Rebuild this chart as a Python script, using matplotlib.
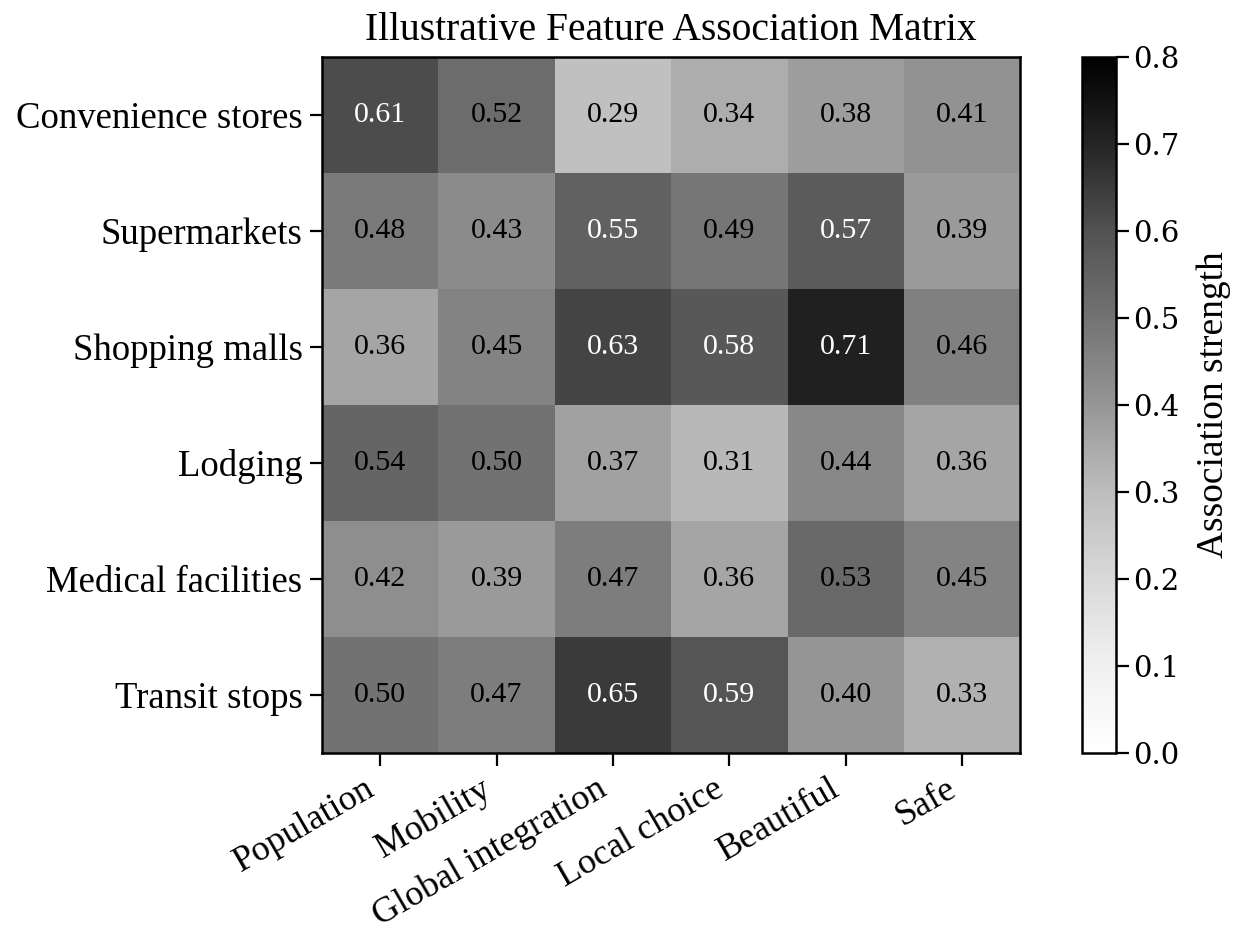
import numpy as np
import matplotlib
matplotlib.use('Agg')
import matplotlib.pyplot as plt

rows = ['Convenience stores', 'Supermarkets', 'Shopping malls',
        'Lodging', 'Medical facilities', 'Transit stops']
cols = ['Population', 'Mobility', 'Global integration',
        'Local choice', 'Beautiful', 'Safe']

convenience = [0.61, 0.52, 0.29, 0.34, 0.38, 0.41]
supermarkets = [0.48, 0.43, 0.55, 0.49, 0.57, 0.39]
malls = [0.36, 0.45, 0.63, 0.58, 0.71, 0.46]
lodging = [0.54, 0.50, 0.37, 0.31, 0.44, 0.36]
medical = [0.42, 0.39, 0.47, 0.36, 0.53, 0.45]
transit = [0.50, 0.47, 0.65, 0.59, 0.40, 0.33]

cbar_ticks = [0.0, 0.1, 0.2, 0.3, 0.4, 0.5, 0.6, 0.7, 0.8]

data = np.array([convenience, supermarkets, malls, lodging, medical, transit])

plt.rcParams['font.family'] = ['Liberation Serif', 'DejaVu Serif']

fig = plt.figure(figsize=(12.41, 9.35), dpi=100)
ax = fig.add_axes([0.2595, 0.1947, 0.5625, 0.7443])
cax = fig.add_axes([0.872, 0.1947, 0.0274, 0.7443])

im = ax.imshow(data, cmap='Greys', vmin=0, vmax=0.8, aspect='auto')

# 數值標註：深色格用白字
for i in range(data.shape[0]):
    for j in range(data.shape[1]):
        v = data[i, j]
        color = 'white' if v >= 0.545 else 'black'
        ax.text(j, i, f'{v:.2f}', ha='center', va='center', color=color, fontsize=21.5)

ax.set_xticks(np.arange(len(cols)))
ax.set_yticks(np.arange(len(rows)))
ax.set_xticklabels(cols, rotation=30, ha='right', fontsize=26)
ax.set_yticklabels(rows, fontsize=26.5)
ax.tick_params(length=9, width=1.6, pad=5)
for s in ax.spines.values():
    s.set_linewidth(1.8)
ax.set_title('Illustrative Feature Association Matrix', fontsize=28.5, pad=12)

cb = fig.colorbar(im, cax=cax)
cb.set_ticks(cbar_ticks)
cb.ax.set_yticklabels([f'{t:.1f}' for t in cbar_ticks],
                      fontfamily='DejaVu Serif', fontsize=21)
cb.ax.tick_params(length=9, width=1.6)
cb.outline.set_linewidth(1.8)
cb.set_label('Association strength', fontsize=27, labelpad=12)

fig.savefig('out.png', dpi=100)
